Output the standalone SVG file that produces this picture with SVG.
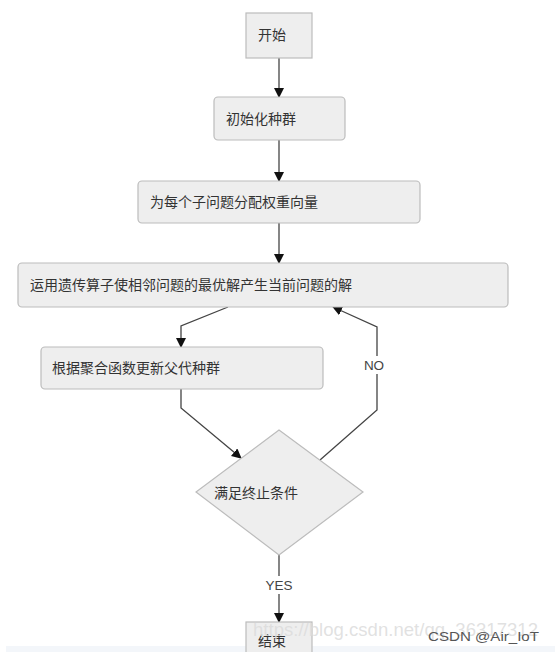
<svg xmlns="http://www.w3.org/2000/svg" width="555" height="652" viewBox="0 0 555 652">
<defs>
<style>
.box{fill:#eeeeee;stroke:#bcbcbc;stroke-width:1.2}
.t{font-family:"Noto Sans CJK SC","Liberation Sans",sans-serif;font-size:14px;fill:#333}
.lbl{font-family:"Liberation Sans",sans-serif;font-size:13.5px;fill:#444}
.c{fill:none;stroke:#444;stroke-width:1.3}
</style>
<marker id="ah" viewBox="0 0 10 10" refX="9" refY="5" markerWidth="10" markerHeight="10" markerUnits="userSpaceOnUse" orient="auto">
<path d="M0,0 L10,5 L0,10 z" fill="#111"/>
</marker>
</defs>
<rect width="555" height="652" fill="#fff"/>
<rect x="6" y="646" width="549" height="6" fill="#f3f6fa"/>
<g id="connectors">
<line class="c" x1="279" y1="58" x2="279" y2="97" marker-end="url(#ah)"/>
<line class="c" x1="279" y1="140" x2="279" y2="181" marker-end="url(#ah)"/>
<line class="c" x1="279" y1="223" x2="279" y2="263" marker-end="url(#ah)"/>
<polyline class="c" points="228,307 181,326 181,347" marker-end="url(#ah)"/>
<polyline class="c" points="181,389 181,408 241,458" marker-end="url(#ah)"/>
<polyline class="c" points="320,460 377,410 377,327 333,307" marker-end="url(#ah)"/>
<line class="c" x1="279" y1="555" x2="279" y2="622" marker-end="url(#ah)"/>
<rect x="362" y="356" width="30" height="18" fill="#fff"/>
<text class="lbl" x="374" y="370" text-anchor="middle">NO</text>
<rect x="258" y="576" width="42" height="18" fill="#fff"/>
<text class="lbl" x="279" y="590" text-anchor="middle">YES</text>
</g>
<g id="start">
<rect class="box" x="246" y="13" width="66" height="45"/>
<text class="t" x="258" y="40">开始</text>
</g>
<g id="init">
<rect class="box" x="214" y="97" width="131" height="43" rx="4"/>
<text class="t" x="226" y="124">初始化种群</text>
</g>
<g id="weights">
<rect class="box" x="138" y="181" width="282" height="42" rx="4"/>
<text class="t" x="150" y="207">为每个子问题分配权重向量</text>
</g>
<g id="genetic">
<rect class="box" x="18" y="263" width="490" height="44" rx="4"/>
<text class="t" x="30" y="290">运用遗传算子使相邻问题的最优解产生当前问题的解</text>
</g>
<g id="update">
<rect class="box" x="41" y="347" width="282" height="42" rx="4"/>
<text class="t" x="52" y="373">根据聚合函数更新父代种群</text>
</g>
<g id="decision">
<polygon class="box" points="279,430 363,492 279,555 196,492"/>
<text class="t" x="214" y="498">满足终止条件</text>
</g>
<g id="end">
<rect class="box" x="246" y="622" width="66" height="40"/>
<text class="t" x="258" y="646">结束</text>
</g>
<text x="253" y="636" font-family="Liberation Sans,sans-serif" font-size="19" fill="#dcdcdc" fill-opacity="0.85" textLength="285" lengthAdjust="spacingAndGlyphs">https://blog.csdn.net/qq_36317312</text>
<text x="428" y="641" font-family="Liberation Sans,sans-serif" font-size="13.5" fill="#555" textLength="111" lengthAdjust="spacingAndGlyphs">CSDN @Air_IoT</text>
</svg>
